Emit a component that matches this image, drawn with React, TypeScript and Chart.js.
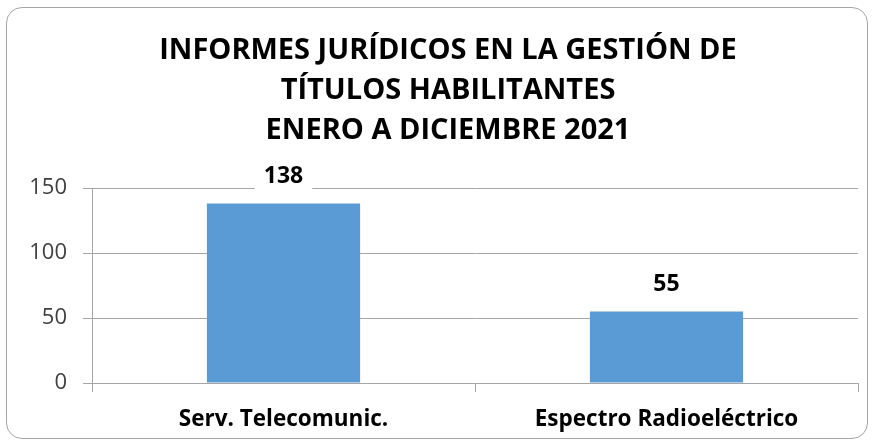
import React, { useEffect, useRef } from 'react';
import { Chart, registerables } from 'chart.js';

Chart.register(...registerables);

const titleLines = ['INFORMES JURÍDICOS EN LA GESTIÓN DE', 'TÍTULOS HABILITANTES', 'ENERO A DICIEMBRE 2021'];
const categories = ['Serv. Telecomunic.', 'Espectro Radioeléctrico'];
const values = [138, 55];
const yMin = 0;
const yMax = 150;
const yStep = 50;

const FONT = '"Open Sans"';

const labelPlugin = {
  id: 'barValueLabels',
  afterDatasetsDraw(chart: any) {
    const ctx = chart.ctx;
    const meta = chart.getDatasetMeta(0);
    ctx.save();
    ctx.font = `bold 23px ${FONT}`;
    ctx.textAlign = 'center';
    ctx.textBaseline = 'middle';
    meta.data.forEach((bar: any, i: number) => {
      const text = String(values[i]);
      const x = bar.x;
      const y = bar.y - 27;
      const w = ctx.measureText(text).width;
      ctx.fillStyle = '#ffffff';
      ctx.fillRect(x - w / 2 - 9, y - 13, w + 18, 27);
      ctx.fillStyle = '#000000';
      ctx.fillText(text, x, y);
    });
    ctx.restore();
  },
};

// Title drawn centred on the outer frame (as in the reference), above the plot area.
const titlePlugin = {
  id: 'frameTitle',
  afterDraw(chart: any) {
    const ctx = chart.ctx;
    ctx.save();
    ctx.font = `bold 29px ${FONT}`;
    ctx.fillStyle = '#000000';
    ctx.textAlign = 'center';
    ctx.textBaseline = 'middle';
    const cx = 448;
    const lineGap = 40;
    const firstY = 51;
    titleLines.forEach((line, i) => {
      ctx.fillText(line, cx, firstY + i * lineGap);
    });
    ctx.restore();
  },
};

export default function App() {
  const ref = useRef<HTMLCanvasElement | null>(null);
  useEffect(() => {
    if (!ref.current) return;
    const chart = new Chart(ref.current, {
      type: 'bar',
      data: {
        labels: categories,
        datasets: [
          {
            data: values,
            backgroundColor: '#5B9BD5',
            borderWidth: 0,
            categoryPercentage: 0.8,
            barPercentage: 0.5,
          },
        ],
      },
      options: {
        responsive: false,
        animation: false,
        layout: { padding: { top: 188, left: 0, right: 18, bottom: 0 } },
        plugins: {
          legend: { display: false },
          tooltip: { enabled: false },
          title: { display: false },
        },
        scales: {
          x: {
            grid: {
              drawOnChartArea: false,
              drawTicks: true,
              tickLength: 9,
              color: '#a6a6a6',
            },
            border: { color: '#a6a6a6', width: 1 },
            ticks: {
              color: '#000000',
              font: { family: FONT, size: 22.5, weight: 'bold' },
              padding: 14,
            },
            afterFit(scale: any) {
              scale.height = 64;
            },
          },
          y: {
            min: yMin,
            max: yMax,
            ticks: {
              stepSize: yStep,
              color: '#404040',
              font: { family: FONT, size: 22 },
              padding: 16,
            },
            grid: {
              color: '#a6a6a6',
              tickLength: 9,
            },
            border: { color: '#a6a6a6', width: 1 },
            afterFit(scale: any) {
              scale.width = 92;
            },
          },
        },
      },
      plugins: [labelPlugin, titlePlugin],
    });
    return () => chart.destroy();
  }, []);

  return (
    <div style={{ position: 'fixed', left: 0, top: 0, width: 876, height: 447, background: '#ffffff' }}>
      <div
        style={{
          position: 'absolute',
          left: 6,
          top: 7,
          width: 862,
          height: 432,
          border: '1px solid #a6a6a6',
          borderRadius: 16,
          boxSizing: 'border-box',
        }}
      />
      <canvas ref={ref} width={876} height={447} style={{ position: 'absolute', left: 0, top: 0 }} />
    </div>
  );
}
